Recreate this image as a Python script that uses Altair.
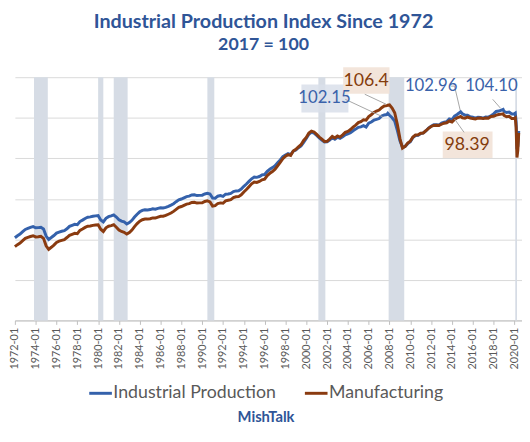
import altair as alt
import pandas as pd

# ---------------- data ----------------
series_names = ["Industrial Production", "Manufacturing"]

# quarterly readings (Jan, Apr, Jul, Oct), 1972-01 .. 2020-01
quarter_dates = pd.date_range("1972-01-01", "2020-01-01", freq="QS")
ip_quarterly = [
    40.8, 41.8, 42.6, 43.8,  # 1972
    44.9, 45.4, 45.9, 46.3,  # 1973
    45.7, 45.8, 46.0, 45.1,  # 1974
    41.6, 40.0, 40.9, 41.9,  # 1975
    43.1, 43.6, 44.0, 44.3,  # 1976
    45.2, 46.4, 46.9, 47.4,  # 1977
    47.2, 48.8, 49.5, 50.3,  # 1978
    50.9, 51.1, 51.4, 51.6,  # 1979
    51.7, 49.6, 48.6, 50.4,  # 1980
    51.2, 51.6, 52.1, 51.0,  # 1981
    49.7, 49.0, 48.6, 47.6,  # 1982
    48.3, 49.4, 51.0, 52.4,  # 1983
    53.6, 54.3, 54.6, 54.5,  # 1984
    54.7, 55.1, 54.9, 55.3,  # 1985
    55.6, 55.5, 55.8, 56.3,  # 1986
    56.9, 57.6, 58.6, 59.5,  # 1987
    59.9, 60.5, 61.1, 61.3,  # 1988
    61.9, 62.0, 61.6, 61.7,  # 1989
    61.8, 62.4, 62.7, 62.4,  # 1990
    60.4, 60.3, 61.3, 61.6,  # 1991
    61.2, 62.3, 62.4, 62.7,  # 1992
    63.6, 63.9, 64.0, 64.8,  # 1993
    66.2, 67.3, 68.6, 69.9,  # 1994
    70.8, 70.6, 71.0, 71.8,  # 1995
    72.0, 73.6, 74.6, 75.4,  # 1996
    76.3, 77.8, 79.2, 80.8,  # 1997
    81.6, 82.3, 81.8, 83.5,  # 1998
    84.1, 85.2, 86.1, 87.9,  # 1999
    89.8, 91.9, 92.8, 92.4,  # 2000
    91.3, 90.1, 89.0, 88.0,  # 2001
    88.1, 89.0, 90.2, 89.4,  # 2002
    90.4, 89.8, 90.6, 91.6,  # 2003
    92.0, 92.6, 93.6, 94.4,  # 2004
    95.3, 95.5, 96.1, 95.4,  # 2005
    97.3, 97.9, 98.8, 99.2,  # 2006
    99.6, 100.9, 101.4, 101.6,  # 2007
    101.2, 100.0, 98.4, 93.8,  # 2008
    88.6, 85.4, 85.8, 87.2,  # 2009
    88.2, 90.3, 91.2, 91.3,  # 2010
    92.2, 92.5, 93.5, 94.9,  # 2011
    95.8, 96.5, 96.5, 96.4,  # 2012
    97.4, 97.8, 98.1, 99.4,  # 2013
    99.1, 100.8, 101.6, 102.6,  # 2014
    102.0, 101.3, 101.3, 100.5,  # 2015
    100.3, 99.8, 100.3, 100.1,  # 2016
    99.8, 100.4, 100.3, 101.0,  # 2017
    101.9, 103.1, 103.3, 103.8,  # 2018
    103.2, 102.6, 102.8, 101.9,  # 2019
    102.0,  # 2020-01
]
mfg_quarterly = [
    36.4, 37.4, 38.2, 39.4,  # 1972
    40.5, 41.0, 41.4, 41.8,  # 1973
    41.2, 41.3, 41.5, 40.5,  # 1974
    36.8, 35.1, 36.1, 37.2,  # 1975
    38.5, 39.1, 39.5, 39.9,  # 1976
    40.9, 42.0, 42.5, 43.0,  # 1977
    42.8, 44.4, 45.1, 45.9,  # 1978
    46.5, 46.6, 46.9, 47.1,  # 1979
    47.2, 45.0, 43.9, 45.7,  # 1980
    46.5, 46.8, 47.2, 46.0,  # 1981
    44.6, 43.9, 43.5, 42.6,  # 1982
    43.4, 44.6, 46.3, 47.8,  # 1983
    49.0, 49.7, 50.0, 50.0,  # 1984
    50.2, 50.6, 50.5, 51.0,  # 1985
    51.4, 51.4, 51.8, 52.4,  # 1986
    53.0, 53.8, 54.8, 55.8,  # 1987
    56.2, 56.8, 57.4, 57.6,  # 1988
    58.2, 58.3, 57.9, 58.0,  # 1989
    58.0, 58.7, 59.0, 58.5,  # 1990
    56.4, 56.6, 57.7, 58.0,  # 1991
    57.8, 59.0, 59.3, 59.6,  # 1992
    60.6, 61.0, 61.1, 62.0,  # 1993
    63.4, 64.6, 66.0, 67.4,  # 1994
    68.3, 68.1, 68.6, 69.4,  # 1995
    69.7, 71.5, 72.6, 73.5,  # 1996
    74.6, 76.3, 78.0, 79.8,  # 1997
    81.0, 81.8, 81.4, 83.6,  # 1998
    84.4, 85.6, 86.7, 88.8,  # 1999
    90.3, 92.5, 93.4, 93.0,  # 2000
    91.8, 90.5, 89.4, 88.3,  # 2001
    88.4, 89.5, 90.8, 90.0,  # 2002
    91.0, 90.5, 91.6, 92.8,  # 2003
    93.3, 94.2, 95.4, 96.4,  # 2004
    97.6, 98.1, 99.0, 98.8,  # 2005
    100.6, 101.5, 102.6, 103.3,  # 2006
    103.8, 105.0, 105.8, 106.0,  # 2007
    106.4, 104.8, 102.5, 96.8,  # 2008
    89.7, 85.0, 85.9, 87.5,  # 2009
    88.5, 90.5, 91.5, 91.6,  # 2010
    92.4, 92.5, 93.6, 94.8,  # 2011
    95.7, 96.2, 96.3, 96.2,  # 2012
    96.8, 97.3, 97.5, 98.4,  # 2013
    97.9, 99.2, 100.0, 100.4,  # 2014
    100.0, 99.8, 100.3, 99.9,  # 2015
    99.6, 99.4, 99.8, 99.9,  # 2016
    99.6, 99.9, 99.8, 100.6,  # 2017
    100.7, 101.3, 101.6, 101.8,  # 2018
    101.2, 100.5, 100.7, 99.6,  # 2019
    99.6,  # 2020-01
]

# extra monthly readings at peaks and in 2020
extra_dates = ["2007-11-01", "2014-11-01", "2018-12-01", "2020-02-01",
               "2020-03-01", "2020-04-01", "2020-05-01", "2020-06-01"]
ip_extra = [102.15, 102.96, 104.10, 102.3, 98.2, 84.5, 86.0, 93.5]
mfg_extra = [106.2, 100.6, 101.9, 99.9, 95.4, 80.4, 84.0, 92.5]

# recessions (NBER)
rec_start = ["1973-11-01", "1980-01-01", "1981-07-01", "1990-07-01",
             "2001-03-01", "2007-12-01", "2020-02-01"]
rec_end = ["1975-03-01", "1980-07-01", "1982-11-01", "1991-03-01",
           "2001-11-01", "2009-06-01", "2020-04-01"]

# annotations (anchored in data units)
ann_labels = ["102.15", "106.4", "102.96", "104.10", "98.39"]
ann_series = ["Industrial Production", "Manufacturing", "Industrial Production",
              "Industrial Production", "Manufacturing"]
ann_date = ["2001-10-01", "2005-10-01", "2012-01-01", "2017-10-15", "2015-06-15"]
ann_value = [109.8, 118.3, 115.6, 115.6, 86.6]

box_series = ["Industrial Production", "Manufacturing", "Manufacturing"]
box_x0 = ["1999-07-15", "2003-07-20", "2013-02-10"]
box_x1 = ["2004-01-20", "2007-12-31", "2017-11-25"]
box_y0 = [102.6, 111.9, 80.1]
box_y1 = [116.4, 124.9, 93.2]

lead_x0 = ["2003-10-01", "2005-08-15", "2013-12-01", "2014-04-01", "2017-12-01", "2015-03-01"]
lead_y0 = [109.1, 111.6, 115.6, 115.6, 109.1, 92.8]
lead_x1 = ["2007-05-01", "2007-09-01", "2014-04-01", "2014-10-15", "2018-09-01", "2014-04-01"]
lead_y1 = [100.5, 106.7, 115.6, 103.8, 104.7, 99.4]

# ---------------- frames ----------------
dates = list(quarter_dates) + list(pd.to_datetime(extra_dates))
ip_all = ip_quarterly + ip_extra
mfg_all = mfg_quarterly + mfg_extra
wide = pd.DataFrame({"date": dates, series_names[0]: ip_all, series_names[1]: mfg_all})
wide = wide.sort_values("date")
long = wide.melt(id_vars="date", var_name="series", value_name="value")

rec_df = pd.DataFrame({"start": pd.to_datetime(rec_start), "end": pd.to_datetime(rec_end)})
ann_df = pd.DataFrame({"label": ann_labels, "series": ann_series,
                       "date": pd.to_datetime(ann_date), "value": ann_value})
box_df = pd.DataFrame({"series": box_series, "x0": pd.to_datetime(box_x0),
                       "x1": pd.to_datetime(box_x1), "y0": box_y0, "y1": box_y1})
lead_df = pd.DataFrame({"x0": pd.to_datetime(lead_x0), "y0": lead_y0,
                        "x1": pd.to_datetime(lead_x1), "y1": lead_y1})

# ---------------- styling ----------------
FONT = "Lato"
TITLE_BLUE = "#2F5597"
LINE_BLUE = "#3461AB"
LINE_BROWN = "#8A3B10"
BAND = "#D6DCE5"
BOX_BLUE = "#D9DFEA"
BOX_BROWN = "#F2E4D9"
TEXT_BLUE = "#3A62AA"
TEXT_BROWN = "#843C0C"

x_scale = alt.Scale(domain=[alt.DateTime(year=1972, month=1, date=1),
                            alt.DateTime(year=2020, month=9, date=24)])
y_scale = alt.Scale(domain=[0, 120], nice=False)
tick_dates = [alt.DateTime(year=y, month=1, date=1) for y in range(1972, 2021, 2)]

x_axis = alt.Axis(values=tick_dates, format="%Y-%m", formatType="time", labelAngle=270,
                  labelFont=FONT, labelFontSize=11, labelColor="#595959", labelOverlap=False,
                  tickColor="#BFBFBF", domainColor="#BFBFBF", tickSize=4,
                  labelPadding=3, grid=False, title=None)
y_axis = alt.Axis(values=[0, 20, 40, 60, 80, 100, 120], labels=False, ticks=False,
                  domain=False, title=None, grid=True, gridColor="#D9D9D9")

X_DATE = lambda field: alt.X(field, scale=x_scale, axis=x_axis)
Y_VAL = lambda field: alt.Y(field, scale=y_scale, axis=y_axis)

bands = alt.Chart(rec_df).mark_rect(color=BAND).encode(
    x=X_DATE("start:T"),
    x2="end:T",
    y=alt.Y(datum=0, scale=y_scale, axis=y_axis),
    y2=alt.Y2(datum=120),
)

lines = alt.Chart(long).mark_line(strokeWidth=3, interpolate="linear").encode(
    x=X_DATE("date:T"),
    y=Y_VAL("value:Q"),
    color=alt.Color("series:N",
                    scale=alt.Scale(domain=series_names, range=[LINE_BLUE, LINE_BROWN]),
                    sort=series_names,
                    legend=alt.Legend(title="MishTalk", orient="none", legendX=74, legendY=308,
                                      direction="horizontal",
                                      titleOrient="bottom", titleAnchor="middle",
                                      titleColor=TITLE_BLUE, titleFont=FONT, titleFontSize=15,
                                      titleFontWeight="bold", titlePadding=8,
                                      labelFont=FONT, labelFontSize=18, labelColor="#595959",
                                      labelLimit=400,
                                      symbolType="stroke", symbolStrokeWidth=3, symbolSize=529,
                                      labelOffset=0, columnPadding=22)),
    order=alt.Order("date:T"),
)

boxes_ip = alt.Chart(box_df).transform_filter(
    alt.datum.series == series_names[0]
).mark_rect(color=BOX_BLUE, opacity=0.85).encode(
    x=X_DATE("x0:T"), x2="x1:T", y=Y_VAL("y0:Q"), y2="y1:Q")
boxes_mfg = alt.Chart(box_df).transform_filter(
    alt.datum.series == series_names[1]
).mark_rect(color=BOX_BROWN, opacity=0.95).encode(
    x=X_DATE("x0:T"), x2="x1:T", y=Y_VAL("y0:Q"), y2="y1:Q")

leaders = alt.Chart(lead_df).mark_rule(color="#A6A6A6", strokeWidth=1).encode(
    x=X_DATE("x0:T"), y=Y_VAL("y0:Q"), x2="x1:T", y2="y1:Q")

text_ip = alt.Chart(ann_df).transform_filter(
    alt.datum.series == series_names[0]
).mark_text(font=FONT, fontSize=17, color=TEXT_BLUE, align="center", baseline="middle").encode(
    x=X_DATE("date:T"), y=Y_VAL("value:Q"), text="label:N")
text_mfg = alt.Chart(ann_df).transform_filter(
    alt.datum.series == series_names[1]
).mark_text(font=FONT, fontSize=18, color=TEXT_BROWN, align="center", baseline="middle").encode(
    x=X_DATE("date:T"), y=Y_VAL("value:Q"), text="label:N")

chart = alt.layer(bands, lines, boxes_ip, boxes_mfg, leaders, text_ip, text_mfg).properties(
    width=515,
    height=247,
    autosize=alt.AutoSizeParams(type="none"),
    padding={"left": 7, "top": 67, "right": 0, "bottom": 110},
    title=alt.TitleParams(text="Industrial Production Index Since 1972", subtitle="2017 = 100",
                          color=TITLE_BLUE, subtitleColor=TITLE_BLUE, font=FONT, subtitleFont=FONT,
                          fontSize=20, subtitleFontSize=18, fontWeight="bold",
                          subtitleFontWeight="bold", anchor="middle", offset=14,
                          subtitlePadding=4, dx=-5),
).configure_view(stroke=None).configure_axisX(labelOverlap=False)

chart.save("out.html", embed_options={"renderer": "svg", "actions": False})
